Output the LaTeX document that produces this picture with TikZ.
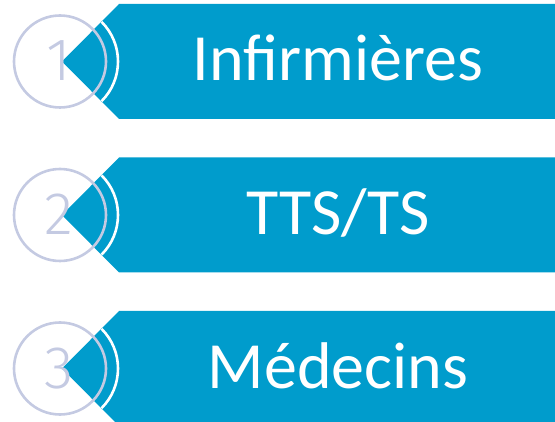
\documentclass[tikz,border=0pt]{standalone}
\usepackage{fontspec}
\setmainfont{Carlito}
\newfontfamily\digitfont{Fira Sans Light}
\definecolor{bandblue}{RGB}{0,156,204}
\definecolor{ringcol}{RGB}{196,202,226}
\tikzset{
  band/.style={fill=bandblue, draw=none},
  gaparc/.style={draw=white, line width=2.6pt},
  ring/.style={draw=ringcol, line width=2.6pt, circle, minimum size=92pt, inner sep=0pt},
  label/.style={text=white, anchor=base, font=\fontsize{66}{66}\selectfont, inner sep=0pt},
  digit/.style={text=ringcol, anchor=base, font=\digitfont\fontsize{60}{60}\selectfont, inner sep=0pt}
}
\begin{document}
\begin{tikzpicture}[x=1pt,y=-1pt]
\useasboundingbox (0,0) rectangle (555,422);
\clip (0,0) rectangle (555,422);
\foreach \c/\b/\t/\n/\k in {61.5/80.7/Infirmières/1/a, 215/235/TTS\slash TS/2/b, 368.5/388.3/Médecins/3/c}{
  \fill[band] (119,\c-57.5) -- (555,\c-57.5) -- (555,\c+57.5) -- (119,\c+57.5) -- (62,\c) -- cycle;
  \draw[gaparc] (62,\c) ++(-45:56) arc[start angle=-45, end angle=45, radius=56];
  \node[label] (text\k) at (338,\b) {\t};
  \node[ring] (ring\k) at (60,\c) {};
  \node[digit] (num\k) at (59,\b) {\n};
}
\end{tikzpicture}
\end{document}
